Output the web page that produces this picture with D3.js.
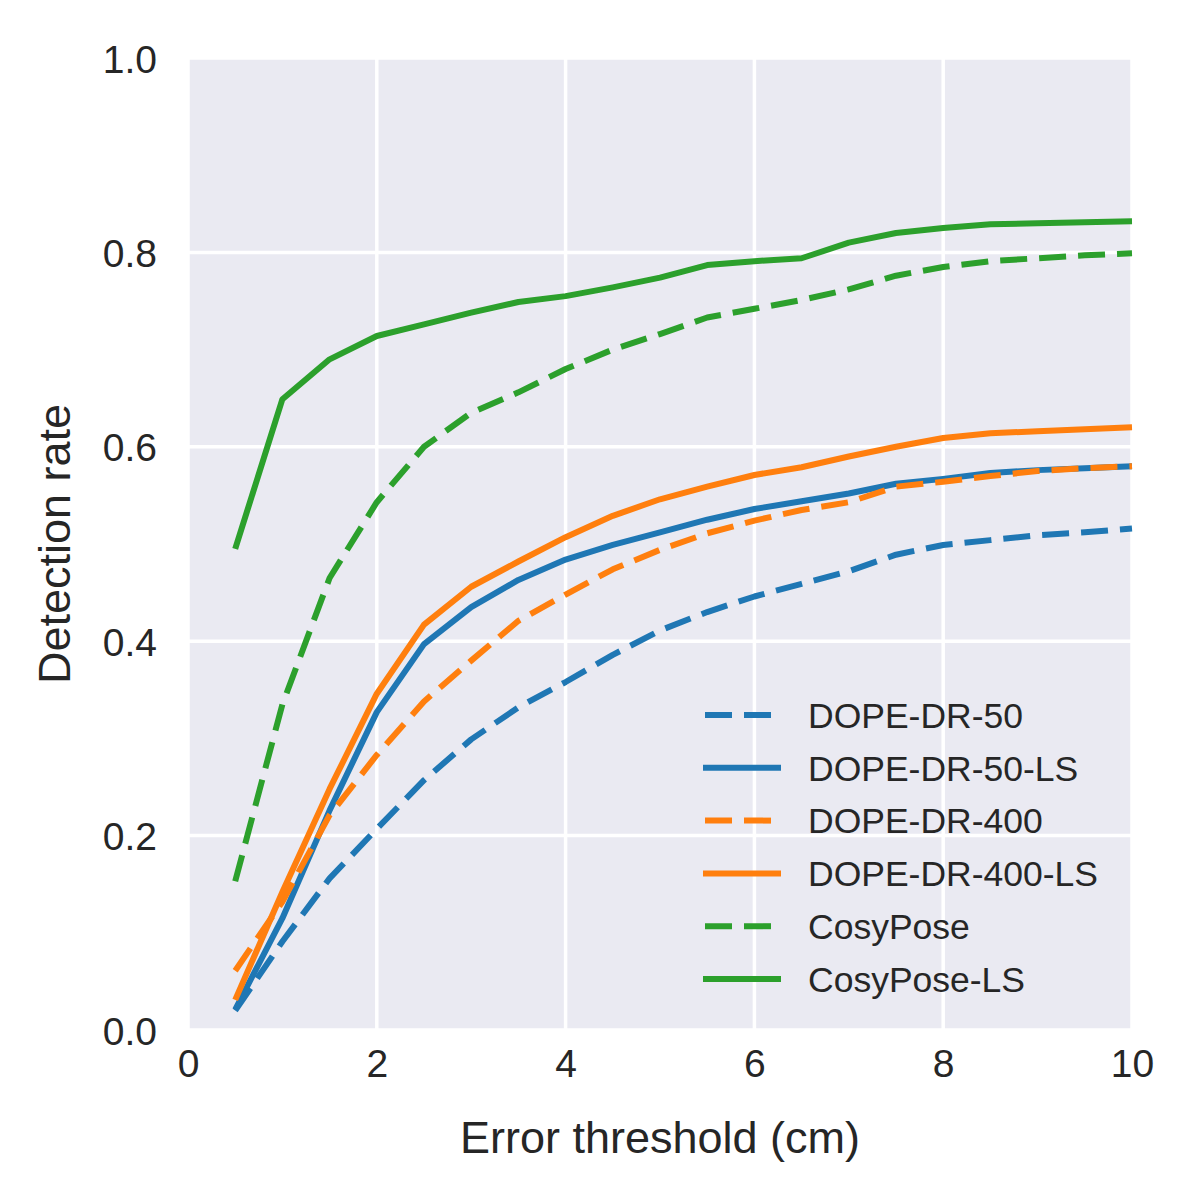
<!DOCTYPE html>
<html>
<head>
<meta charset="utf-8">
<script src="https://cdn.jsdelivr.net/npm/d3@7"></script>
<style>
  html, body { margin: 0; padding: 0; background: #fff; }
  text { font-family: "Liberation Sans", Arial, sans-serif; fill: #262626; }
</style>
</head>
<body>
<svg id="chart" width="1196" height="1196"></svg>
<script>
// error thresholds (cm)
const thresholds = [0.5, 1.0, 1.5, 2.0, 2.5, 3.0, 3.5, 4.0, 4.5, 5.0,
                    5.5, 6.0, 6.5, 7.0, 7.5, 8.0, 8.5, 9.0, 9.5, 10.0];

const dopeDr50   = [0.020, 0.091, 0.156, 0.207, 0.257, 0.299, 0.332, 0.358, 0.386, 0.411,
                    0.430, 0.446, 0.459, 0.472, 0.489, 0.499, 0.504, 0.509, 0.512, 0.516];
const dopeDr50Ls = [0.021, 0.115, 0.226, 0.327, 0.397, 0.435, 0.463, 0.484, 0.499, 0.512,
                    0.525, 0.536, 0.544, 0.552, 0.562, 0.567, 0.573, 0.576, 0.578, 0.580];
const dopeDr400   = [0.061, 0.132, 0.221, 0.283, 0.338, 0.380, 0.421, 0.448, 0.474, 0.494,
                     0.511, 0.524, 0.535, 0.543, 0.559, 0.564, 0.570, 0.575, 0.578, 0.580];
const dopeDr400Ls = [0.031, 0.142, 0.248, 0.346, 0.417, 0.456, 0.482, 0.507, 0.529, 0.546,
                     0.559, 0.571, 0.579, 0.590, 0.600, 0.609, 0.614, 0.616, 0.618, 0.620];
const cosyPose   = [0.153, 0.335, 0.465, 0.543, 0.600, 0.635, 0.656, 0.680, 0.700, 0.716,
                    0.733, 0.742, 0.751, 0.762, 0.776, 0.785, 0.791, 0.794, 0.797, 0.799];
const cosyPoseLs = [0.495, 0.649, 0.690, 0.714, 0.726, 0.738, 0.749, 0.755, 0.764, 0.774,
                    0.787, 0.791, 0.794, 0.810, 0.820, 0.825, 0.829, 0.830, 0.831, 0.832];

const seriesNames = ["DOPE-DR-50", "DOPE-DR-50-LS", "DOPE-DR-400", "DOPE-DR-400-LS", "CosyPose", "CosyPose-LS"];
const seriesValues = [dopeDr50, dopeDr50Ls, dopeDr400, dopeDr400Ls, cosyPose, cosyPoseLs];
const seriesColors = ["#1f77b4", "#1f77b4", "#ff7f0e", "#ff7f0e", "#2ca02c", "#2ca02c"];
const seriesDashed = [true, false, true, false, true, false];

const xTicks = [0, 2, 4, 6, 8, 10];
const yTicks = [0.0, 0.2, 0.4, 0.6, 0.8, 1.0];

const margin = { top: 58, right: 64, bottom: 166, left: 188 };
const width = 1196, height = 1196;
const innerWidth = width - margin.left - margin.right;
const innerHeight = height - margin.top - margin.bottom;

const svg = d3.select("#chart");
const g = svg.append("g").attr("transform", `translate(${margin.left},${margin.top})`);

const xScale = d3.scaleLinear().domain([0, 10]).range([0, innerWidth]);
const yScale = d3.scaleLinear().domain([0, 1]).range([innerHeight, 0]);

// background
g.append("rect")
    .attr("width", innerWidth)
    .attr("height", innerHeight)
    .attr("fill", "#eaeaf2");

// grid
g.append("g")
    .selectAll("line")
    .data(xTicks)
    .join("line")
    .attr("x1", d => xScale(d)).attr("x2", d => xScale(d))
    .attr("y1", 0).attr("y2", innerHeight)
    .attr("stroke", "#fff").attr("stroke-width", 3.5);

g.append("g")
    .selectAll("line")
    .data(yTicks)
    .join("line")
    .attr("y1", d => yScale(d)).attr("y2", d => yScale(d))
    .attr("x1", 0).attr("x2", innerWidth)
    .attr("stroke", "#fff").attr("stroke-width", 3.5);

// axes (labels only, seaborn darkgrid style)
const xAxis = g.append("g")
    .attr("transform", `translate(0,${innerHeight})`)
    .call(d3.axisBottom(xScale).tickValues(xTicks).tickSize(0).tickPadding(47).tickFormat(d3.format("d")));
const yAxis = g.append("g")
    .call(d3.axisLeft(yScale).tickValues(yTicks).tickSize(0).tickPadding(31).tickFormat(d3.format(".1f")));

[xAxis, yAxis].forEach(ax => {
    ax.attr("font-size", 39).attr("font-family", null);
    ax.select(".domain").remove();
    ax.selectAll("text").attr("fill", "#262626");
});
xAxis.selectAll("text").attr("dy", 0);
yAxis.selectAll("text").attr("dy", "0.36em");

// axis titles
svg.append("text")
    .attr("x", margin.left + innerWidth / 2)
    .attr("y", 1153)
    .attr("text-anchor", "middle")
    .attr("font-size", 45)
    .text("Error threshold (cm)");

svg.append("text")
    .attr("transform", `translate(70,${margin.top + innerHeight / 2}) rotate(-90)`)
    .attr("text-anchor", "middle")
    .attr("font-size", 45)
    .text("Detection rate");

// lines
const line = d3.line()
    .x((d, i) => xScale(thresholds[i]))
    .y(d => yScale(d));

g.append("g")
    .selectAll("path")
    .data(seriesValues)
    .join("path")
    .attr("d", d => line(d))
    .attr("fill", "none")
    .attr("stroke", (d, i) => seriesColors[i])
    .attr("stroke-width", 6)
    .attr("stroke-linejoin", "round")
    .attr("stroke-dasharray", (d, i) => seriesDashed[i] ? "27,12" : null);

// legend
const legend = g.append("g")
    .attr("transform", `translate(${515},${657})`);

const rows = legend.selectAll("g")
    .data(seriesNames)
    .join("g")
    .attr("transform", (d, i) => `translate(0,${i * 52.8})`);

rows.append("line")
    .attr("x1", (d, i) => seriesDashed[i] ? 2 : 0)
    .attr("x2", (d, i) => seriesDashed[i] ? 68 : 78)
    .attr("stroke", (d, i) => seriesColors[i])
    .attr("stroke-width", 6)
    .attr("stroke-dasharray", (d, i) => seriesDashed[i] ? "27,12" : null);

rows.append("text")
    .attr("x", 105)
    .attr("dy", "0.36em")
    .attr("font-size", 35.5)
    .text(d => d);
</script>
</body>
</html>
